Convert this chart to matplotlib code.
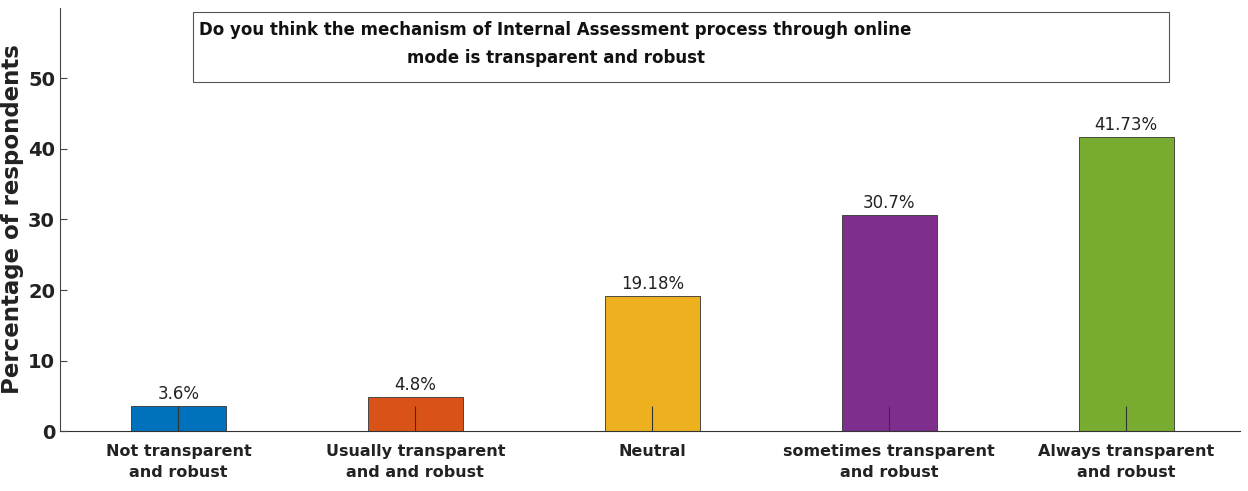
import matplotlib.pyplot as plt
from matplotlib.patches import Rectangle

categories = ['Not transparent\nand robust', 'Usually transparent\nand and robust', 'Neutral',
              'sometimes transparent\nand robust', 'Always transparent\nand robust']
values = [3.6, 4.8, 19.18, 30.7, 41.73]
labels = ['3.6%', '4.8%', '19.18%', '30.7%', '41.73%']
colors = ['#0072BD', '#D95319', '#EDB120', '#7E2F8E', '#77AC30']
title = 'Do you think the mechanism of Internal Assessment process through online\nmode is transparent and robust'

plt.rcParams['font.family'] = ['DejaVu Sans']

fig = plt.figure(figsize=(12.48, 4.91), dpi=100)
ax = fig.add_axes([0.048, 0.122, 0.9456, 0.862])

x = list(range(1, len(values) + 1))
ax.bar(x, values, width=0.4, color=colors, edgecolor='#333333', linewidth=0.6)
for xi, v, t in zip(x, values, labels):
    ax.text(xi, v + 0.4, t, ha='center', va='bottom', fontsize=12, color='#222222')

ax.set_axisbelow(False)
ax.set_xlim(0.5, 5.48)
ax.set_ylim(0, 60)
ax.set_yticks([0, 10, 20, 30, 40, 50])
ax.set_xticks(x)
ax.set_xticklabels(categories, fontsize=11.5, fontweight='bold', color='#222222', linespacing=1.55)
ax.tick_params(axis='y', labelsize=14, direction='in', length=5, colors='#444444', labelcolor='#222222')
ax.tick_params(axis='x', direction='in', length=18, width=0.8, colors='#333333', labelcolor='#222222', pad=9)
for lbl in ax.get_yticklabels():
    lbl.set_fontweight('bold')
for s in ['top', 'right']:
    ax.spines[s].set_visible(False)
ax.spines['left'].set_color('#444444')
ax.spines['bottom'].set_color('#333333')
ax.set_ylabel('Percentage of respondents', fontsize=16.5, fontweight='bold',
              color='#222222', labelpad=3)

box = Rectangle((0.113, 0.825), 0.827, 0.165, transform=ax.transAxes, fill=False,
                edgecolor='#555555', linewidth=0.8, clip_on=False)
ax.add_patch(box)
ax.text(0.42, 0.915, title, transform=ax.transAxes, ha='center', va='center',
        fontsize=12, fontweight='bold', color='#111111', linespacing=1.75)

fig.savefig('out.png', dpi=100)
